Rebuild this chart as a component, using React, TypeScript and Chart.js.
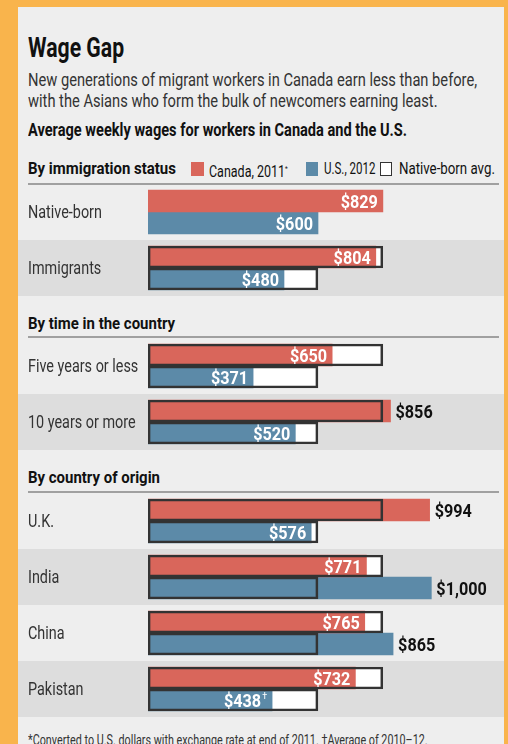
import React, { useEffect, useRef } from "react";
import { Chart, registerables } from "chart.js";

Chart.register(...registerables);

const FONT = "Roboto, sans-serif";
const SQ = 0.8; // horizontal condensing of the narrow newspaper face

const RED = "#D9665B";
const BLUE = "#5C8AA8";
const BAND = "#DDDDDD";
const PANEL = "#EEEEEE";
const ORANGE = "#F9B44C";

// By immigration status
const STATUS_LABELS = ["Native-born", "Immigrants"];
const STATUS_CANADA = [829, 804];
const STATUS_US = [600, 480];
const STATUS_US_NOTES = ["", ""];

// By time in the country
const TIME_LABELS = ["Five years or less", "10 years or more"];
const TIME_CANADA = [650, 856];
const TIME_US = [371, 520];
const TIME_US_NOTES = ["", ""];

// By country of origin
const ORIGIN_LABELS = ["U.K.", "India", "China", "Pakistan"];
const ORIGIN_CANADA = [994, 771, 765, 732];
const ORIGIN_US = [576, 1000, 865, 438];
const ORIGIN_US_NOTES = ["", "", "", "†"];

const NATIVE_LABEL = STATUS_LABELS[0];
const NATIVE_CANADA = STATUS_CANADA[0];
const NATIVE_US = STATUS_US[0];
const X_MAX = 1200;

const ROW_H = 56;

type SectionProps = {
  labels: string[];
  canada: number[];
  us: number[];
  usNotes: string[];
};

function fmt(v: number) {
  return "$" + v.toLocaleString("en-US");
}

function drawSquished(ctx: CanvasRenderingContext2D, text: string, x: number, y: number, k: number) {
  ctx.save();
  ctx.translate(x, y);
  ctx.scale(k, 1);
  ctx.fillText(text, 0, 0);
  ctx.restore();
}

function SectionChart({ labels, canada, us, usNotes }: SectionProps) {
  const ref = useRef<HTMLCanvasElement | null>(null);
  useEffect(() => {
    const canvas = ref.current;
    if (!canvas) return;
    const avgCa = labels.map((l) => (l === NATIVE_LABEL ? null : NATIVE_CANADA));
    const avgUs = labels.map((l) => (l === NATIVE_LABEL ? null : NATIVE_US));
    const common = { barThickness: 22, grouped: true };

    const bandPlugin = {
      id: "bands",
      beforeDatasetsDraw(chart: any) {
        const { ctx } = chart;
        const y = chart.scales.y;
        const n = labels.length;
        const h = y.height / n;
        ctx.save();
        ctx.fillStyle = BAND;
        for (let i = 0; i < n; i++) {
          if (i % 2 === 1) {
            const c = y.getPixelForValue(i);
            ctx.fillRect(0, c - h / 2, chart.width, h);
          }
        }
        // row labels at the category positions of the y axis
        ctx.fillStyle = "#333333";
        ctx.textAlign = "left";
        ctx.textBaseline = "alphabetic";
        ctx.font = `18px ${FONT}`;
        labels.forEach((l, i) => {
          drawSquished(ctx, l, y.left, y.getPixelForValue(i) + 6, SQ);
        });
        ctx.restore();
      },
    };

    const labelPlugin = {
      id: "valueLabels",
      afterDatasetsDraw(chart: any) {
        const { ctx } = chart;
        const series = [
          { idx: 2, values: canada, native: NATIVE_CANADA, notes: labels.map(() => "") },
          { idx: 3, values: us, native: NATIVE_US, notes: usNotes },
        ];
        const K = 0.9;
        ctx.save();
        ctx.textBaseline = "alphabetic";
        ctx.textAlign = "left";
        for (const s of series) {
          const meta = chart.getDatasetMeta(s.idx);
          meta.data.forEach((bar: any, i: number) => {
            const v = s.values[i];
            const text = fmt(v);
            const note = s.notes[i] || "";
            const inside = v <= s.native || labels[i] === NATIVE_LABEL;
            ctx.font = `bold 18px ${FONT}`;
            const tw = ctx.measureText(text).width * K;
            ctx.font = `9px ${FONT}`;
            const nw = note ? ctx.measureText(note).width + 1 : 0;
            let x0: number;
            if (inside) {
              ctx.fillStyle = "#FFFFFF";
              x0 = bar.x - 5 - nw - tw;
            } else {
              ctx.fillStyle = "#111111";
              x0 = bar.x + 5;
            }
            ctx.font = `bold 18px ${FONT}`;
            drawSquished(ctx, text, x0, bar.y + 6.5, K);
            if (note) {
              ctx.font = `9px ${FONT}`;
              ctx.fillText(note, x0 + tw + 1, bar.y - 1);
            }
          });
        }
        ctx.restore();
      },
    };

    const chart = new Chart(canvas, {
      type: "bar",
      data: {
        labels,
        datasets: [
          { label: "avgFillCa", data: avgCa, stack: "ca", order: 3, backgroundColor: "#FFFFFF", borderWidth: 0, ...common },
          { label: "avgFillUs", data: avgUs, stack: "us", order: 3, backgroundColor: "#FFFFFF", borderWidth: 0, ...common },
          { label: "Canada, 2011", data: canada, stack: "ca", order: 2, backgroundColor: RED, borderWidth: 0, ...common },
          { label: "U.S., 2012", data: us, stack: "us", order: 2, backgroundColor: BLUE, borderWidth: 0, ...common },
          { label: "avgLineCa", data: avgCa, stack: "ca", order: 1, backgroundColor: "rgba(0,0,0,0)", borderColor: "#333333", borderWidth: 2, borderSkipped: false, ...common },
          { label: "avgLineUs", data: avgUs, stack: "us", order: 1, backgroundColor: "rgba(0,0,0,0)", borderColor: "#333333", borderWidth: 2, borderSkipped: false, ...common },
        ],
      } as any,
      options: {
        indexAxis: "y",
        animation: false,
        responsive: false,
        maintainAspectRatio: false,
        events: [],
        layout: { padding: { left: 10, right: 16, top: 0, bottom: 0 } },
        plugins: { legend: { display: false }, tooltip: { enabled: false } },
        scales: {
          x: { display: false, min: 0, max: X_MAX, stacked: false },
          y: {
            grid: { display: false },
            border: { display: false },
            ticks: { display: false },
            afterFit: (s: any) => {
              s.width = 120;
            },
          },
        },
      } as any,
      plugins: [bandPlugin, labelPlugin],
    });
    return () => chart.destroy();
  }, [labels, canada, us, usNotes]);
  return <canvas ref={ref} width={486} height={labels.length * ROW_H} style={{ display: "block" }} />;
}

function Txt({
  left,
  top,
  size,
  bold,
  lh,
  color,
  k = SQ,
  children,
}: {
  left: number;
  top: number;
  size: number;
  bold?: boolean;
  lh: number;
  color: string;
  k?: number;
  children: React.ReactNode;
}) {
  return (
    <div
      style={{
        position: "absolute",
        left,
        top,
        whiteSpace: "nowrap",
        fontFamily: FONT,
        fontSize: size,
        fontWeight: bold ? 700 : 400,
        lineHeight: `${lh}px`,
        color,
        transform: `scaleX(${k})`,
        transformOrigin: "left top",
      }}
    >
      {children}
    </div>
  );
}

function Box({ left, top, w, h, bg, border }: { left: number; top: number; w: number; h: number; bg: string; border?: string }) {
  return (
    <div
      style={{
        position: "absolute",
        left,
        top,
        width: w,
        height: h,
        background: bg,
        border: border || "none",
        boxSizing: "border-box",
      }}
    />
  );
}

export default function App() {
  useEffect(() => {
    document.body.style.margin = "0";
  }, []);
  const hr = (top: number) => <Box left={28} top={top} w={471} h={2} bg="#A0A0A0" />;
  return (
    <div style={{ position: "relative", width: 508, height: 744, background: ORANGE, overflow: "hidden" }}>
      <Box left={18} top={7} w={486} h={800} bg={PANEL} />
      <Txt left={28} top={34} size={27} bold lh={28} color="#111" k={0.785}>
        Wage Gap
      </Txt>
      <Txt left={28} top={69} size={18} lh={21} color="#333" k={0.815}>
        New generations of migrant workers in Canada earn less than before,
        <br />
        with the Asians who form the bulk of newcomers earning least.
      </Txt>
      <Txt left={28} top={120} size={18} bold lh={20} color="#111" k={0.81}>
        Average weekly wages for workers in Canada and the U.S.
      </Txt>

      <Txt left={28} top={158} size={17} bold lh={20} color="#111" k={0.88}>
        By immigration status
      </Txt>
      <Box left={191} top={162} w={13} h={14} bg={RED} />
      <Txt left={209} top={159} size={16} lh={20} color="#111" k={0.78}>
        Canada, 2011<sup style={{ fontSize: 8, verticalAlign: "6px" }}>*</sup>
      </Txt>
      <Box left={306} top={162} w={12} h={14} bg={BLUE} />
      <Txt left={324} top={159} size={16} lh={20} color="#111" k={0.72}>
        U.S., 2012
      </Txt>
      <Box left={380} top={162} w={12} h={14} bg="#FFFFFF" border="1.5px solid #333" />
      <Txt left={399} top={159} size={16} lh={20} color="#111" k={0.83}>
        Native-born avg.
      </Txt>
      {hr(183)}
      <div style={{ position: "absolute", left: 18, top: 184 }}>
        <SectionChart labels={STATUS_LABELS} canada={STATUS_CANADA} us={STATUS_US} usNotes={STATUS_US_NOTES} />
      </div>

      <Txt left={28} top={313} size={17} bold lh={20} color="#111" k={0.88}>
        By time in the country
      </Txt>
      {hr(336)}
      <div style={{ position: "absolute", left: 18, top: 338 }}>
        <SectionChart labels={TIME_LABELS} canada={TIME_CANADA} us={TIME_US} usNotes={TIME_US_NOTES} />
      </div>

      <Txt left={28} top={467} size={17} bold lh={20} color="#111" k={0.88}>
        By country of origin
      </Txt>
      {hr(491)}
      <div style={{ position: "absolute", left: 18, top: 493 }}>
        <SectionChart labels={ORIGIN_LABELS} canada={ORIGIN_CANADA} us={ORIGIN_US} usNotes={ORIGIN_US_NOTES} />
      </div>

      <Txt left={28} top={732} size={14} lh={16} color="#333" k={0.77}>
        *Converted to U.S. dollars with exchange rate at end of 2011. †Average of 2010–12.
      </Txt>
    </div>
  );
}
